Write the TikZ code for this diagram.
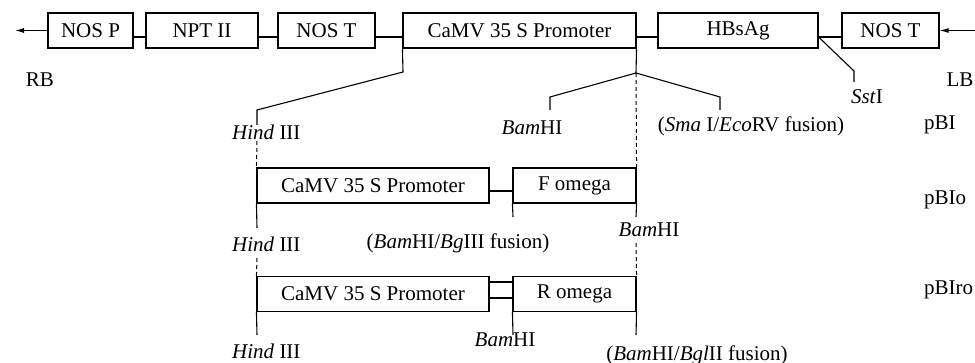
\documentclass[tikz,border=0pt]{standalone}
\usepackage{fontspec}
\setmainfont{Liberation Serif}
\usetikzlibrary{arrows.meta}
\begin{document}
\begin{tikzpicture}[x=1pt,y=-1pt,
  every node/.style={font=\fontsize{21}{25}\selectfont, inner sep=0pt},
  box/.style={draw, line width=1.1pt, minimum height=35pt, anchor=center},
  ln/.style={line width=1.1pt},
  dsh/.style={line width=1pt, dash pattern=on 4pt off 3pt},
  lbl/.style={anchor=base},
  lblw/.style={anchor=base west},
  arr/.style={line width=1.1pt, -{Latex[length=9pt,width=5pt]}}
]
\useasboundingbox (0,0) rectangle (975,363);

% ---- top row ----
\node[box, minimum width=85pt]  (nosp)   at (90.5,30.5) {NOS P};
\node[box, minimum width=112pt] (nptii)  at (202,30.5)  {NPT II};
\node[box, minimum width=97pt]  (nost1)  at (326.5,30.5) {NOS T};
\node[box, minimum width=233pt] (camv1)  at (519.5,30.5) {CaMV 35 S Promoter};
\node[box, minimum width=160pt] (hbsag)  at (738,30.5)  {HBsAg};
\node[box, minimum width=97pt]  (nost2)  at (890.5,30.5) {NOS T};

\coordinate (lend) at (15,30.5);
\coordinate (rend) at (975,30.5);
\draw[arr] (nosp.west) -- (lend);
\draw[arr] (rend) -- (nost2.east);

\draw[ln] ([yshift=-6.5pt]nosp.east)  -- ([yshift=-6.5pt]nptii.west);
\draw[ln] ([yshift=-6.5pt]nptii.east) -- ([yshift=-6.5pt]nost1.west);
\draw[ln] ([yshift=-6.5pt]nost1.east) -- ([yshift=-6.5pt]camv1.west);
\draw[ln] ([yshift=-6.5pt]camv1.east) -- ([yshift=-6.5pt]hbsag.west);
\draw[ln] ([yshift=-6.5pt]hbsag.east) -- ([yshift=-6.5pt]nost2.west);

\node[lbl] (rb) at (40,87) {RB};
\node[lbl] (lb) at (960,87) {LB};

% HindIII branch
\coordinate (k1) at (403,72);
\coordinate (h1) at (257,110);
\coordinate (h1b) at (257,125);
\coordinate (h1c) at (257,141);
\draw[ln] (camv1.south west) -- (k1) -- (h1) -- (h1b);

% BamHI / Sma branch
\coordinate (br) at (636,73);
\coordinate (bA) at (550,97);
\coordinate (bB) at (550,110);
\coordinate (sA) at (720,97);
\coordinate (sB) at (720,110);
\draw[ln] (camv1.south east) -- (br);
\draw[ln] (br) -- (bA) -- (bB);
\draw[ln] (br) -- (sA) -- (sB);

% SstI
\coordinate (st1) at (854,71);
\coordinate (st2) at (854,82);
\draw[ln] ([yshift=-6.5pt]hbsag.east) -- (st1) -- (st2);
\node[lbl] (sst) at (867,104) {\textit{Sst}I};

\node[lblw] (hind1) at (232,140) {\textit{Hind} III};
\node[lbl]  (bam1)  at (532,135) {\textit{Bam}HI};
\node[lbl]  (sma)   at (751,132) {(\textit{Sma} I/\textit{Eco}RV fusion)};
\node[lblw] (pbi)   at (924,130) {pBI};

% ---- second row ----
\node[box, minimum width=232pt] (camv2)  at (373,185.5)  {CaMV 35 S Promoter};
\node[box, minimum width=123pt] (fomega) at (574.5,185.5) {F omega};

\draw[dsh] (h1c) -- (camv2.north west);
\draw[dsh] (br) -- (fomega.north east);

\draw[ln] ([yshift=-5.5pt]camv2.east) -- ([yshift=-5.5pt]fomega.west);

\coordinate (h2a) at (257,228);
\coordinate (h2b) at (257,258);
\coordinate (f1) at (513,217);
\coordinate (f2) at (636,217);
\coordinate (f3) at (636,243);
\draw[ln] (camv2.south west) -- (h2a);
\draw[ln] (fomega.south west) -- (f1);
\draw[ln] (fomega.south east) -- (f2);

\node[lblw] (hind2) at (232,252) {\textit{Hind} III};
\node[lbl]  (fus2)  at (458,249) {(\textit{Bam}HI/\textit{Bg}III fusion)};
\node[lbl]  (bam2)  at (649,237) {\textit{Bam}HI};
\node[lblw] (pbio)  at (924,205) {pBIo};

% ---- third row ----
\node[box, minimum width=232pt] (camv3)  at (373,294)  {CaMV 35 S Promoter};
\node[box, minimum width=123pt] (romega) at (574.5,294) {R omega};

\draw[dsh] (h2b) -- (camv3.north west);
\draw[dsh] (f3) -- (romega.north east);

\draw[ln] ([yshift=12pt]camv3.east) -- ([yshift=12pt]romega.west);
\draw[ln] ([yshift=-4pt]camv3.east) -- ([yshift=-4pt]romega.west);

\coordinate (r1) at (257,335);
\coordinate (r2) at (513,335);
\coordinate (r3) at (636,335);
\draw[ln] (camv3.south west) -- (r1);
\draw[ln] (romega.south west) -- (r2);
\draw[ln] (romega.south east) -- (r3);

\node[lblw] (hind3) at (232,359) {\textit{Hind} III};
\node[lbl]  (bam3)  at (505,347) {\textit{Bam}HI};
\node[lbl]  (fus3)  at (697,360) {(\textit{Bam}HI/\textit{Bgl}II fusion)};
\node[lblw] (pbiro) at (924,295) {pBIro};

\end{tikzpicture}
\end{document}
